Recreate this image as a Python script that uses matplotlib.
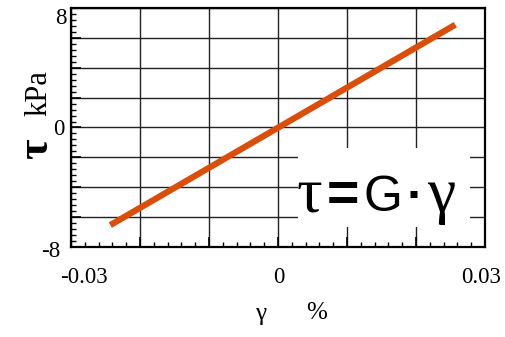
import numpy as np
import matplotlib.pyplot as plt
from matplotlib.patches import Rectangle
from matplotlib.ticker import MultipleLocator
from matplotlib.offsetbox import TextArea, HPacker, AnchoredOffsetbox

# shear strain (%) vs shear stress (kPa)
gamma = [-0.0243, 0.0257]
tau = [-6.55, 6.9]

x_ticklabels = [(-0.03, '-0.03'), (0.0, '0'), (0.03, '0.03')]
y_ticklabels = [(8, '8'), (0, '0'), (-8, '-8')]

W, H = 506, 337
fig = plt.figure(figsize=(W / 100, H / 100), dpi=100)
ax = fig.add_axes([71 / W, 1 - 246.7 / H, 414 / W, 238.4 / H])

ax.set_xlim(-0.03, 0.03)
ax.set_ylim(-8, 8)
ax.xaxis.set_major_locator(MultipleLocator(0.01))
ax.xaxis.set_minor_locator(MultipleLocator(0.002))
ax.yaxis.set_major_locator(MultipleLocator(2))
ax.yaxis.set_minor_locator(MultipleLocator(0.4))
ax.tick_params(which='both', direction='in', top=False, right=False,
               labelbottom=False, labelleft=False, color='black')
ax.tick_params(which='major', length=7, width=1.2)
ax.tick_params(which='minor', length=3.5, width=1)
ax.grid(True, which='major', color='#222222', linewidth=1.0)
ax.set_axisbelow(True)
for s in ax.spines.values():
    s.set_linewidth(1.6)

ax.plot(gamma, tau, color='#DA4E0A', linewidth=4.5, solid_capstyle='butt', zorder=3)

serif = 'Liberation Serif'
sans = 'Liberation Sans'

# tick labels
offs_x = {-0.03: 13, 0.0: 1, 0.03: -4}
for v, s in x_ticklabels:
    ax.annotate(s, xy=(v, -8), xytext=(offs_x[v], -31), textcoords='offset pixels',
                ha='center', va='center', fontsize=16.5, family=serif, annotation_clip=False)
offs_y = {8: (-4, -10), 0: (-6, -2), -8: (-11, -5)}
for v, s in y_ticklabels:
    ax.annotate(s, xy=(-0.03, v), xytext=offs_y[v], textcoords='offset pixels',
                ha='right', va='center', fontsize=16.5, family=serif, annotation_clip=False)

# axis labels
fig.text(36 / W, 1 - 149 / H, 'τ', rotation=90, ha='center', va='center',
         fontsize=32, fontweight='bold', family=serif)
fig.text(39 / W, 1 - 93 / H, 'kPa', rotation=90, ha='center', va='center',
         fontsize=22, family=serif)
fig.text(261 / W, 1 - 314 / H, 'γ', ha='center', va='center', fontsize=18, family=serif)
fig.text(317 / W, 1 - 313 / H, '%', ha='center', va='center', fontsize=18, family=serif)

# formula box
ax.add_patch(Rectangle((298 / W, 1 - 227 / H), 172 / W, 79 / H, transform=fig.transFigure,
                       facecolor='white', edgecolor='none', zorder=4))
parts = [TextArea('τ', textprops=dict(fontsize=46, family=serif)),
         TextArea('=', textprops=dict(fontsize=40, family=sans, fontweight='bold')),
         TextArea('G', textprops=dict(fontsize=36, family=sans)),
         TextArea('·', textprops=dict(fontsize=36, family=sans, fontweight='bold')),
         TextArea('γ', textprops=dict(fontsize=46, family=serif))]
box = HPacker(children=parts, align='baseline', pad=0, sep=3)
ab = AnchoredOffsetbox(loc='center left', child=box, pad=0, frameon=False,
                       bbox_to_anchor=(297 / W, 1 - 196 / H),
                       bbox_transform=fig.transFigure, borderpad=0)
ab.zorder = 5
ax.add_artist(ab)

fig.savefig('out.png', dpi=100)
